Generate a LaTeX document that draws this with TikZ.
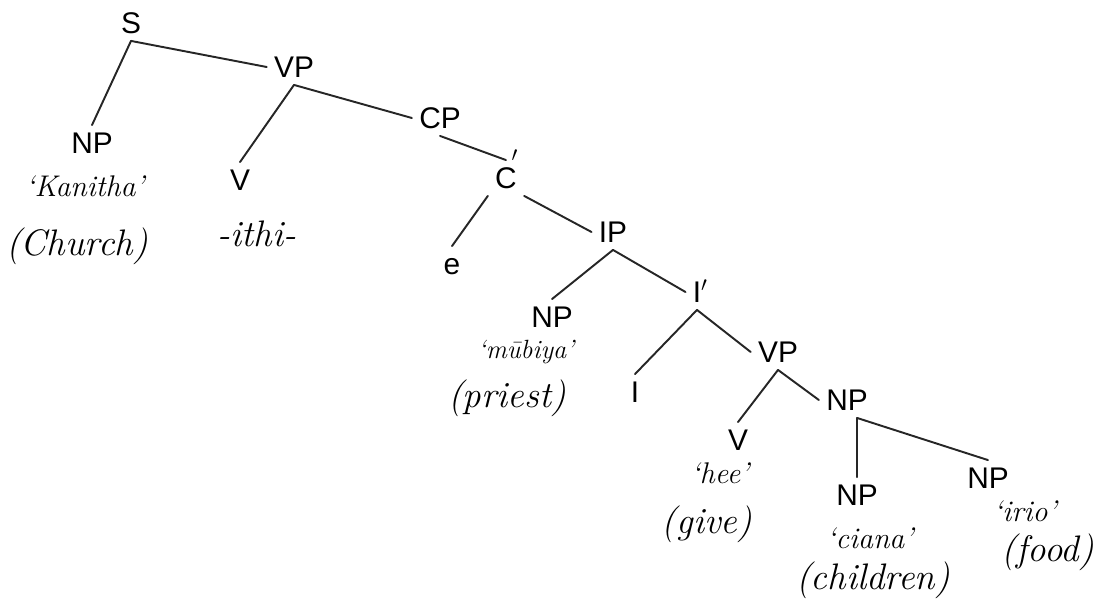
\documentclass[tikz,border=0pt]{standalone}
\usepackage{fontspec}
\newfontfamily\labelfont{Liberation Sans}
\usetikzlibrary{calc}

\tikzset{
  cat/.style={font=\labelfont\fontsize{17pt}{20pt}\selectfont, inner sep=4pt, text height=12pt, text depth=0pt},
  word/.style={font=\itshape\fontsize{17pt}{19pt}\selectfont, inner sep=0pt},
  meaning/.style={font=\itshape\fontsize{21pt}{24pt}\selectfont, inner sep=0pt},
  branch/.style={line width=1.1pt, black!85}
}

\begin{document}
\begin{tikzpicture}[x=0.2mm, y=-0.2mm, line join=round, line cap=round]
    \useasboundingbox (0,0) rectangle (1106,613);
    % categories
    \node[cat] (S)   at (131,23)  {S};
    \node[cat] (VPa) at (294,67)  {VP};
    \node[cat] (NPa) at (92,143)  {NP};
    \node[cat] (Va)  at (240,180) {V};
    \node[cat] (CP)  at (440,118) {CP};
    \node[cat] (Cb)  at (506,178) {C\rlap{\kern-3pt\raisebox{9pt}{$'$}}};
    \node[cat] (e)   at (452,264) {e};
    \node[cat] (IP)  at (613,232) {IP};
    \node[cat] (NPb) at (552,317) {NP};
    \node[cat] (Ib)  at (697,292) {I\rlap{$'$}};
    \node[cat] (I)   at (635,392) {I};
    \node[cat] (VPb) at (778,352) {VP};
    \node[cat] (Vb)  at (738,440) {V};
    \node[cat] (NPc) at (847,400) {NP};
    \node[cat] (NPd) at (857,495) {NP};
    \node[cat] (NPe) at (988,478) {NP};
    % glosses
    \node[word]    (kanitha)  at (85,186)  {`Kanitha'};
    \node[meaning] (church)   at (77,246)  {(Church)};
    \node[meaning] (ithi)     at (257,234) {-ithi-};
    \node[word, font=\itshape\fontsize{15pt}{17pt}\selectfont] (mubiya) at (526,352) {`mūbiya'};
    \node[meaning] (priest)   at (507,398) {(priest)};
    \node[word]    (hee)      at (720,473) {`hee'};
    \node[meaning] (give)     at (707,524) {(give)};
    \node[word]    (ciana)    at (870,538) {`ciana'};
    \node[meaning] (children) at (873,580) {(children)};
    \node[word]    (irio)     at (1025,511) {`irio'};
    \node[meaning] (food)     at (1048,552) {(food)};
    % branches
    \draw[branch] (S.south) -- (NPa.north);
    \draw[branch] (S.south) -- (VPa.west);
    \draw[branch] (VPa.south) -- (Va.north);
    \draw[branch] (VPa.south) -- (CP.west);
    \draw[branch] (CP.south) -- (Cb.north);
    \draw[branch] (Cb.south west) -- (e.north);
    \draw[branch] (Cb.south east) -- (IP.west);
    \draw[branch] (IP.south) -- (NPb.north);
    \draw[branch] (IP.south) -- (Ib.west);
    \draw[branch] (Ib.south) -- (I.north);
    \draw[branch] (Ib.south) -- (VPb.west);
    \draw[branch] (VPb.south) -- (Vb.north);
    \draw[branch] (VPb.south) -- (NPc.west);
    \coordinate (fork) at (NPd.north |- NPc.south);
    \draw[branch] (NPd.north) -- (fork) -- (NPe.north);
\end{tikzpicture}
\end{document}
